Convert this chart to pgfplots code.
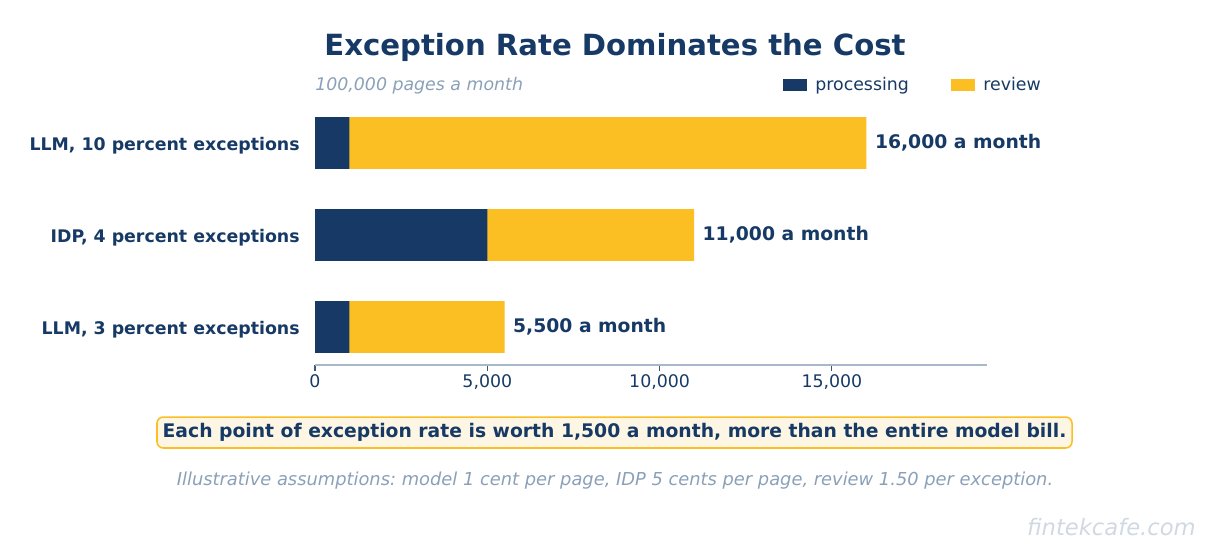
\documentclass[border=0pt]{standalone}
\usepackage{fontspec}
\setmainfont{DejaVu Sans}
\usepackage{pgfplots}
\usepackage{pgfplotstable}
\pgfplotsset{compat=1.18}
\frenchspacing

\definecolor{navy}{HTML}{163A65}
\definecolor{amber}{HTML}{FBBF24}
\definecolor{mutegray}{HTML}{8AA0B8}
\definecolor{axisgray}{HTML}{A8B8CB}
\definecolor{tickcol}{HTML}{3A5878}
\definecolor{notefill}{HTML}{FEF6E4}
\definecolor{wmgray}{HTML}{D0D9E3}

\pgfplotsset{
  patchlegend/.style={legend image code/.code={\fill[##1] (0pt,-4.3pt) rectangle (17.3pt,4.3pt);}},
}

% monthly cost, 100,000 pages; total = processing + review
\pgfplotstableread{
pos processing review total label
0   1000       4500   5500   {5,500 a month}
1   5000       6000   11000  {11,000 a month}
2   1000       15000  16000  {16,000 a month}
}\costs

\begin{document}
\begin{tikzpicture}
\begin{scope}[x=0.72pt,y=-0.72pt]
  \path[use as bounding box] (0,0) rectangle (1230,553);
  \node[font=\fontsize{21}{25}\selectfont\bfseries, text=navy] at (615,47) {Exception Rate Dominates the Cost};
  \node[anchor=west, inner sep=0pt, font=\fontsize{12.5}{15}\selectfont\itshape, text=mutegray] at (315,86) {100,000 pages a month};
  \node[draw=amber, line width=1.1pt, fill=notefill, rounded corners=4.5pt,
        minimum width=658.8pt, minimum height=22.3pt, inner sep=0pt,
        font=\fontsize{13.5}{16}\selectfont\bfseries, text=navy] at (614.5,432.5)
        {Each point of exception rate is worth 1,500 a month, more than the entire model bill.};
  \node[font=\fontsize{12.85}{15}\selectfont\itshape, text=mutegray] at (615,481)
        {Illustrative assumptions: model 1 cent per page, IDP 5 cents per page, review 1.50 per exception.};
  \node[anchor=east, inner sep=0pt, font=\fontsize{16.3}{19}\selectfont\itshape, text=wmgray] at (1196,527) {fintekcafe.com};
\end{scope}

\begin{axis}[
    at={(226.8pt,-262.8pt)}, anchor=south west,
    width=483.84pt, height=192.96pt, scale only axis,
    xbar, bar shift=0pt,
    bar width=0.565,
    clip=false,
    xmin=0, xmax=19500,
    ymin=-0.413, ymax=2.5,
    xtick={0,5000,10000,15000},
    ytick={0,1,2},
    yticklabels={{LLM, 3 percent exceptions},{IDP, 4 percent exceptions},{LLM, 10 percent exceptions}},
    scaled x ticks=false,
    /pgf/number format/assume math mode=true,
    /pgf/number format/1000 sep={,},
    axis x line*=bottom,
    axis y line*=left,
    x axis line style={draw=axisgray, line width=1.1pt, -},
    y axis line style={draw=none},
    tick align=outside,
    major tick length=4.3pt,
    x tick style={draw=tickcol, line width=0.75pt},
    y tick style={draw=none},
    xticklabel style={font=\fontsize{12.5}{15}\selectfont, text=navy, yshift=1pt},
    yticklabel style={font=\fontsize{12.5}{15}\selectfont\bfseries, text=navy, xshift=-3.2pt, yshift=-2pt},
    legend columns=2,
    reverse legend,
    legend style={at={(0.6964,1.0448)}, anchor=west, draw=none, fill=none,
        inner sep=0pt, nodes={inner sep=0pt},
        font=\fontsize{12.5}{15}\selectfont, text=navy,
        /tikz/every odd column/.append style={column sep=5.8pt},
        /tikz/every even column/.append style={column sep=30.5pt}},
]
% review drawn as the full bar, processing laid over its start
\addplot[fill=amber, draw=none, patchlegend,
    nodes near coords, point meta=explicit symbolic,
    nodes near coords style={anchor=west, inner sep=0pt, xshift=6pt,
        font=\fontsize{13.5}{16}\selectfont\bfseries, text=navy}]
    table[x=total, y=pos, meta=label] {\costs};
\addlegendentry{review}
\addplot[fill=navy, draw=none, patchlegend]
    table[x=processing, y=pos] {\costs};
\addlegendentry{processing}
\end{axis}
\end{tikzpicture}
\end{document}
